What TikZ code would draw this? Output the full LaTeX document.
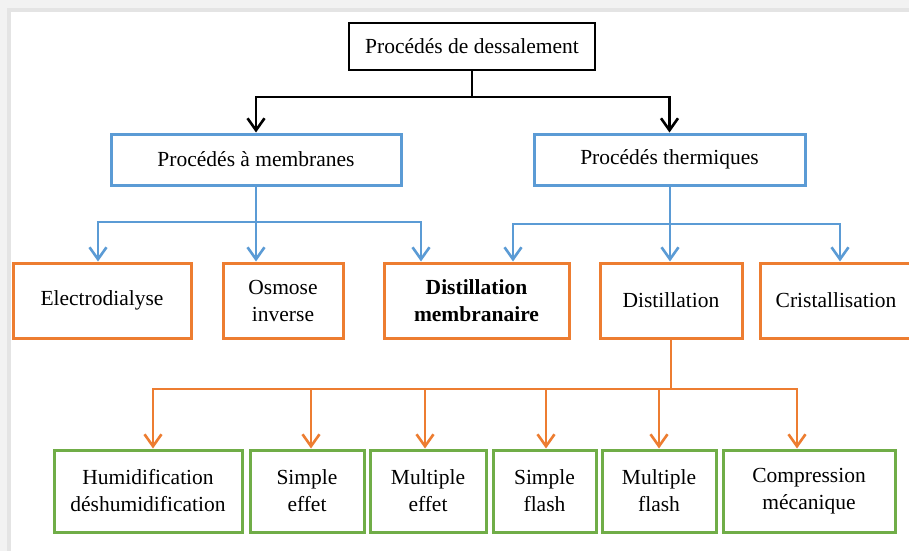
\documentclass[tikz,border=0pt]{standalone}
\usepackage{fontspec}
\setmainfont{Liberation Serif}
\usetikzlibrary{arrows.meta}
\definecolor{cblue}{HTML}{5B9BD5}
\definecolor{corange}{HTML}{ED7D31}
\definecolor{cgreen}{HTML}{70AD47}
\definecolor{bgout}{HTML}{F2F2F2}
\definecolor{bgband}{HTML}{E4E4E4}
\tikzset{
  box/.style={rectangle, inner sep=0pt, align=center, font=\fontsize{21.5}{27}\selectfont, fill=white},
  blackbox/.style={box, draw=black, line width=2.6pt},
  bluebox/.style={box, draw=cblue, line width=3pt},
  orangebox/.style={box, draw=corange, line width=3pt},
  greenbox/.style={box, draw=cgreen, line width=3pt},
  tip/.style={-{Straight Barb[length=12pt,width=17pt,line width=2.6pt]}},
  blackline/.style={draw=black, line width=2.8pt},
  blueline/.style={draw=cblue, line width=2.8pt},
  orangeline/.style={draw=corange, line width=2.8pt},
}
\begin{document}
\begin{tikzpicture}[x=1pt,y=-1pt]
\useasboundingbox (0,0) rectangle (909,551);
\clip (0,0) rectangle (909,551);
\fill[bgout] (0,0) rectangle (909,551);
\fill[bgband] (7,8) rectangle (909,551);
\fill[white] (11,12) rectangle (909,551);

% nodes
\node[blackbox, minimum width=246pt, minimum height=47pt] (top) at (472,46.5) {Procédés de dessalement};
\node[bluebox, minimum width=290pt, minimum height=51pt] (bl) at (256,159.5) {Procédés à membranes};
\node[bluebox, minimum width=271pt, minimum height=51pt] (br) at (669.5,159.5) {Procédés thermiques};

\node[orangebox, minimum width=178pt, minimum height=75pt] (ed) at (102,300.5) {Electrodialyse};
\node[orangebox, minimum width=120pt, minimum height=75pt] (oi) at (283,300.5) {Osmose\\inverse};
\node[orangebox, minimum width=185pt, minimum height=75pt] (dm) at (476.5,300.5) {\bfseries Distillation\\\bfseries membranaire};
\node[orangebox, minimum width=142pt, minimum height=75pt] (di) at (671,300.5) {Distillation};
\node[orangebox, minimum width=152pt, minimum height=75pt] (cr) at (836,300.5) {Cristallisation};

\node[greenbox, minimum width=188pt, minimum height=82pt] (hu) at (148,491) {Humidification\\déshumidification};
\node[greenbox, minimum width=114pt, minimum height=82pt] (se) at (307,491) {Simple\\effet};
\node[greenbox, minimum width=116pt, minimum height=82pt] (me) at (428,491) {Multiple\\effet};
\node[greenbox, minimum width=103pt, minimum height=82pt] (sf) at (544.5,491) {Simple\\flash};
\node[greenbox, minimum width=114pt, minimum height=82pt] (mf) at (659,491) {Multiple\\flash};
\node[greenbox, minimum width=172pt, minimum height=82pt] (cm) at (809,491) {Compression\\mécanique};

% black connectors
\coordinate (j0) at (472,97);
\draw[blackline] (top.south) -- (j0);
\draw[blackline, tip] (j0) -| (bl.north);
\draw[blackline, tip] (j0) -| (br.north);

% blue connectors (left)
\coordinate (jb1) at (256,222);
\draw[blueline] (bl.south) -- (jb1);
\draw[blueline, tip] (jb1) -| (98,0 |- ed.north);
\draw[blueline, tip] (jb1) -- (256,0 |- oi.north);
\draw[blueline, tip] (jb1) -| (421,0 |- dm.north);

% blue connectors (right)
\coordinate (jb2) at (670,224);
\draw[blueline] (670,0 |- br.south) -- (jb2);
\draw[blueline, tip] (jb2) -| (513,0 |- dm.north);
\draw[blueline, tip] (jb2) -- (670,0 |- di.north);
\draw[blueline, tip] (jb2) -| (840,0 |- cr.north);

% orange connectors
\coordinate (jo) at (671,389);
\draw[orangeline] (di.south) -- (jo);
\draw[orangeline, tip] (jo) -| (153,0 |- hu.north);
\draw[orangeline, tip] (jo) -| (311,0 |- se.north);
\draw[orangeline, tip] (jo) -| (425,0 |- me.north);
\draw[orangeline, tip] (jo) -| (546,0 |- sf.north);
\draw[orangeline, tip] (jo) -| (659,0 |- mf.north);
\draw[orangeline, tip] (jo) -| (797,0 |- cm.north);
\end{tikzpicture}
\end{document}
